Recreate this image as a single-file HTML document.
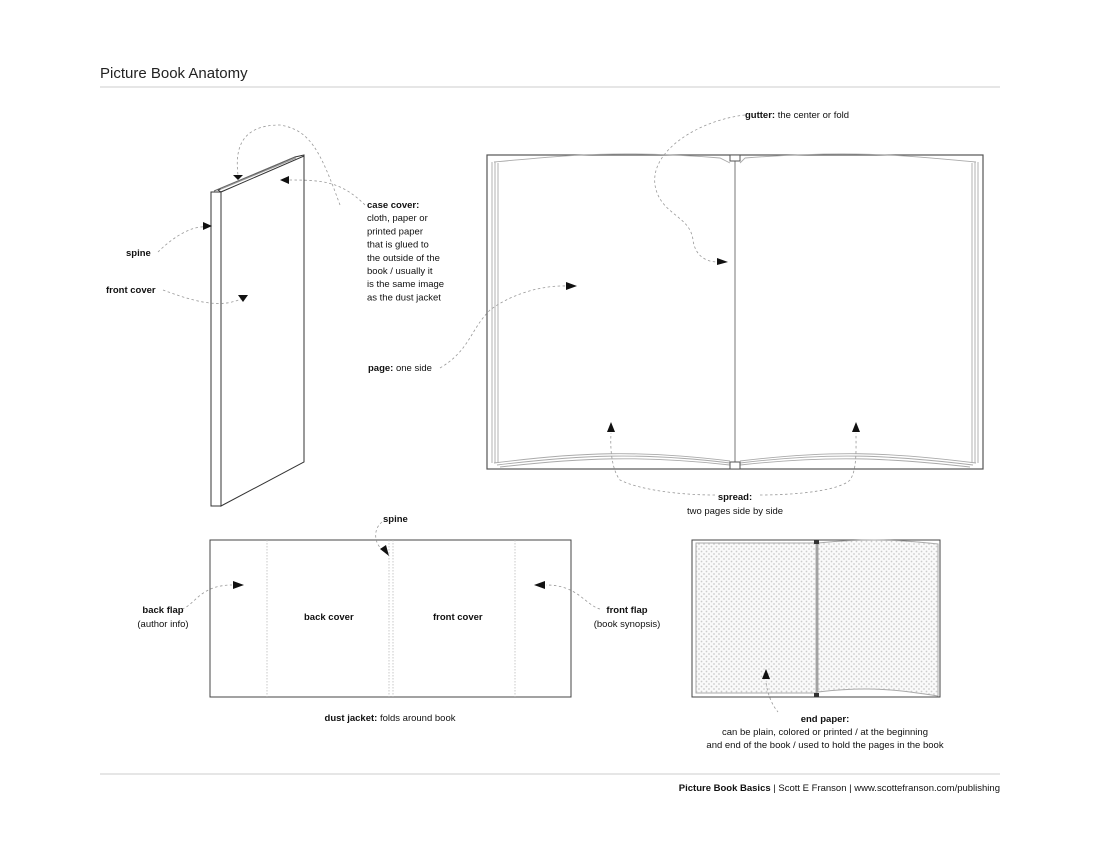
<!DOCTYPE html>
<html><head><meta charset="utf-8"><style>
body{margin:0;background:#fff;}
svg{display:block;font-family:"Liberation Sans",sans-serif;}
.t{font-size:9.5px;fill:#111;}
.b{font-weight:bold;}
.d{fill:none;stroke:#999;stroke-width:0.8;stroke-dasharray:2.5 2.5;}
</style></head><body>
<svg width="1100" height="850" viewBox="0 0 1100 850">
<defs><pattern id="dots" width="5" height="5" patternUnits="userSpaceOnUse"><rect width="5" height="5" fill="#fafafa"/><circle cx="1.5" cy="1.5" r="0.9" fill="#ccc"/><circle cx="4" cy="4" r="0.9" fill="#ccc"/></pattern></defs>
<text x="100" y="78" font-size="15" fill="#222">Picture Book Anatomy</text>
<line x1="100" y1="87" x2="1000" y2="87" stroke="#ccc"/>
<line x1="100" y1="774" x2="1000" y2="774" stroke="#ccc"/>
<text x="1000" y="791" text-anchor="end" class="t"><tspan class="b">Picture Book Basics</tspan> | Scott E Franson | www.scottefranson.com/publishing</text>

<!-- standing book -->
<g stroke="#333" stroke-width="1" fill="#fff">
<polygon points="218,190 295,157 304,155 304,158 221,192"/>
<line x1="214" y1="191" x2="295" y2="157" stroke="#666"/>
<rect x="211" y="192" width="10" height="314"/>
<polygon points="221,192 304,156 304,462 221,506"/>
</g>
<line x1="221" y1="189" x2="296" y2="158" stroke="#999"/>
<path class="d" d="M340,205 C320,150 310,130 280,125 C240,125 235,150 238,175"/>
<polygon points="233,175 243,175 238,180" fill="#111"/>
<path class="d" d="M365,205 C340,180 320,180 285,180"/>
<polygon points="280,180 289,176 289,184" fill="#111"/>
<path class="d" d="M158,252 C170,240 190,225 207,227"/>
<polygon points="212,226 203,222 203,230" fill="#111"/>
<path class="d" d="M163,290 C190,300 220,310 243,298"/>
<polygon points="248,295 238,295 243,302" fill="#111"/>
<text x="126" y="256" class="t b">spine</text>
<text x="106" y="293" class="t b">front cover</text>
<text x="367" y="208" class="t"><tspan class="b">case cover:</tspan><tspan x="367" dy="13.2">cloth, paper or</tspan><tspan x="367" dy="13.2">printed paper</tspan><tspan x="367" dy="13.2">that is glued to</tspan><tspan x="367" dy="13.2">the outside of the</tspan><tspan x="367" dy="13.2">book / usually it</tspan><tspan x="367" dy="13.2">is the same image</tspan><tspan x="367" dy="13.2">as the dust jacket</tspan></text>
<text x="368" y="371" class="t"><tspan class="b">page:</tspan> one side</text>

<!-- open book -->
<rect x="487" y="155" width="496" height="314" fill="#fff" stroke="#555" stroke-width="1.2"/>
<g fill="none" stroke="#aaa" stroke-width="0.9">
<path d="M492,162 L492,463 M495,162 L495,463 M498,163 L498,463"/>
<path d="M978,162 L978,463 M975,162 L975,463 M972,163 L972,463"/>
<path d="M494,162 C570,155 620,150 720,158 L730,163"/>
<path d="M976,162 C900,155 850,150 745,158 L740,163"/>
<path d="M494,463 C580,452 640,450 730,461 M497,465 C580,455 640,452 730,463 M500,467 C580,458 640,455 730,465"/>
<path d="M976,463 C890,452 830,450 740,461 M973,465 C890,455 830,452 740,463 M970,467 C890,458 830,455 740,465"/>
</g>
<line x1="735" y1="158" x2="735" y2="466" stroke="#777"/>
<rect x="730" y="155" width="10" height="6" fill="#fff" stroke="#555"/>
<rect x="730" y="462" width="10" height="7" fill="#fff" stroke="#555"/>
<path class="d" d="M745,115 C700,120 650,150 655,185 C660,215 690,215 693,240 C695,255 705,262 718,262"/>
<polygon points="728,262 717,258 717,265" fill="#111"/>
<path class="d" d="M440,368 C470,350 470,330 490,310 C510,295 540,285 568,286"/>
<polygon points="577,286 566,282 566,290" fill="#111"/>
<path class="d" d="M715,495 C680,495 640,490 620,480 C612,470 610,450 611,433"/>
<polygon points="611,422 607,432 615,432" fill="#111"/>
<path class="d" d="M760,495 C800,495 840,490 850,480 C857,470 856,450 856,433"/>
<polygon points="856,422 852,432 860,432" fill="#111"/>
<text x="745" y="118" class="t"><tspan class="b">gutter:</tspan> the center or fold</text>
<text x="735" y="500" class="t b" text-anchor="middle">spread:</text>
<text x="735" y="514" class="t" text-anchor="middle">two pages side by side</text>

<!-- dust jacket -->
<rect x="210" y="540" width="361" height="157" fill="#fff" stroke="#444"/>
<g stroke="#bbb" stroke-width="0.8" stroke-dasharray="1.5 1.5"><line x1="267" y1="540" x2="267" y2="697"/><line x1="389" y1="540" x2="389" y2="697"/><line x1="393" y1="540" x2="393" y2="697"/><line x1="515" y1="540" x2="515" y2="697"/></g>
<path class="d" d="M382,522 C372,530 375,545 383,550"/>
<polygon points="389,556 380,549 386,545" fill="#111"/>
<path class="d" d="M182,609 C195,605 200,585 232,585"/>
<polygon points="244,585 233,581 233,589" fill="#111"/>
<path class="d" d="M600,609 C585,605 578,585 546,585"/>
<polygon points="534,585 545,581 545,589" fill="#111"/>
<text x="383" y="522" class="t b">spine</text>
<text x="304" y="620" class="t b">back cover</text>
<text x="433" y="620" class="t b">front cover</text>
<text x="163" y="613" class="t b" text-anchor="middle">back flap</text>
<text x="163" y="627" class="t" text-anchor="middle">(author info)</text>
<text x="627" y="613" class="t b" text-anchor="middle">front flap</text>
<text x="627" y="627" class="t" text-anchor="middle">(book synopsis)</text>
<text x="390" y="721" class="t" text-anchor="middle"><tspan class="b">dust jacket:</tspan> folds around book</text>

<!-- end paper -->
<rect x="692" y="540" width="248" height="157" fill="#fff" stroke="#444"/>
<rect x="696" y="543" width="120" height="150" fill="url(#dots)" stroke="#aaa"/>
<path d="M818,543 C870,538 900,540 938,544 L938,696 C900,690 870,686 818,692 Z" fill="url(#dots)" stroke="#aaa"/>
<line x1="817" y1="541" x2="817" y2="696" stroke="#999"/>
<rect x="814" y="540" width="5" height="4" fill="#333"/>
<rect x="814" y="693" width="5" height="4" fill="#333"/>
<path class="d" d="M766,683 C768,695 772,705 778,712"/>
<polygon points="766,669 762,679 770,679" fill="#111"/>
<text x="825" y="722" class="t b" text-anchor="middle">end paper:</text>
<text x="825" y="735" class="t" text-anchor="middle">can be plain, colored or printed / at the beginning</text>
<text x="825" y="748" class="t" text-anchor="middle">and end of the book / used to hold the pages in the book</text>
</svg>
</body></html>
